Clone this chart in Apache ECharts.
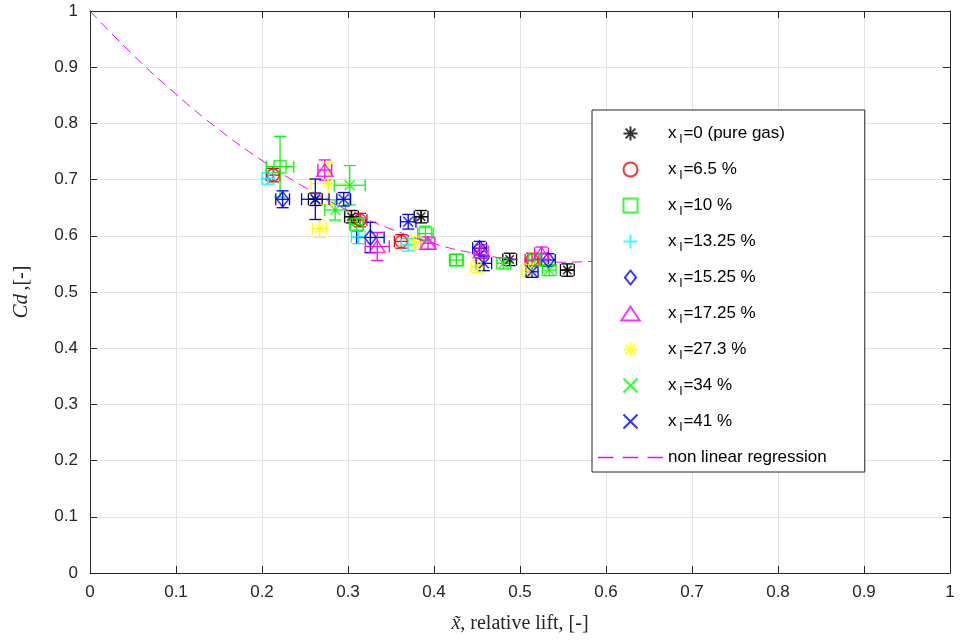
<!DOCTYPE html>
<html>
<head>
<meta charset="utf-8">
<script src="https://cdn.jsdelivr.net/npm/echarts@6/dist/echarts.min.js"></script>
<style>
  html, body { margin: 0; padding: 0; background: #fff; }
  #chart { width: 962px; height: 644px; }
</style>
</head>
<body>
<div id="chart"></div>
<script>
// each point: [x, Cd, x error, Cd error]
const pureGas = [[0.262, 0.665, 0.008, 0.011], [0.304, 0.634, 0.008, 0.011], [0.385, 0.634, 0.008, 0.011], [0.488, 0.558, 0.008, 0.011], [0.555, 0.539, 0.008, 0.011]]
const xl65 = [[0.213, 0.708, 0.008, 0.012], [0.314, 0.628, 0.008, 0.012], [0.362, 0.590, 0.008, 0.012], [0.514, 0.557, 0.008, 0.012]]
const xl10 = [[0.221, 0.723, 0.016, 0.054], [0.310, 0.620, 0.008, 0.012], [0.390, 0.604, 0.009, 0.013], [0.426, 0.557, 0.008, 0.010], [0.517, 0.557, 0.008, 0.010]]
const xl1325 = [[0.207, 0.702, 0.007, 0.010], [0.312, 0.598, 0.008, 0.012], [0.370, 0.584, 0.008, 0.011]]
const xl1525 = [[0.224, 0.665, 0.008, 0.015], [0.326, 0.597, 0.016, 0.027], [0.453, 0.578, 0.008, 0.012], [0.533, 0.557, 0.008, 0.011]]
const xl1725 = [[0.273, 0.717, 0.008, 0.018], [0.334, 0.581, 0.014, 0.025], [0.393, 0.587, 0.008, 0.011], [0.455, 0.572, 0.008, 0.012], [0.525, 0.569, 0.008, 0.011]]
const xl273 = [[0.277, 0.693, 0.020, 0.037], [0.267, 0.613, 0.008, 0.016], [0.378, 0.587, 0.008, 0.011], [0.451, 0.545, 0.008, 0.011], [0.510, 0.539, 0.008, 0.011]]
const xl34 = [[0.302, 0.690, 0.018, 0.035], [0.285, 0.646, 0.012, 0.018], [0.481, 0.551, 0.008, 0.010], [0.534, 0.539, 0.008, 0.010]]
const xl41 = [[0.262, 0.665, 0.016, 0.036], [0.295, 0.665, 0.008, 0.012], [0.370, 0.625, 0.009, 0.013], [0.458, 0.551, 0.009, 0.013], [0.514, 0.536, 0.007, 0.010]]

const fitX = [0, 0.05, 0.1, 0.15, 0.2, 0.25, 0.3, 0.35, 0.4, 0.45, 0.5, 0.55, 0.6]
const fitY = [1, 0.922, 0.852, 0.789, 0.734, 0.686, 0.645, 0.612, 0.586, 0.568, 0.557, 0.553, 0.556]

const STAR = 'path://M0,5L10,5M5,0L5,10M1.5,1.5L8.5,8.5M8.5,1.5L1.5,8.5'
const PLUS = 'path://M0,5L10,5M5,0L5,10'
const CROSS = 'path://M0,0L10,10M10,0L0,10'
const SQUARE = 'path://M0,0L10,0L10,10L0,10Z'
const DIAMOND = 'path://M6,0L12,7.5L6,15L0,7.5Z'
const TRIANGLE = 'path://M8.5,0L17,13L0,13Z'
const DASHES = 'path://M0,0L15,0L15,1.4L0,1.4Z M24,0L39,0L39,1.4L24,1.4Z M48,0L63,0L63,1.4L48,1.4Z'

const groups = [
  { name: 'x_l=0 (pure gas)', data: pureGas, color: '#000000', symbol: STAR, size: 12 },
  { name: 'x_l=6.5 %', data: xl65, color: '#ff0000', symbol: 'circle', size: 12 },
  { name: 'x_l=10 %', data: xl10, color: '#00ff00', symbol: SQUARE, size: 12 },
  { name: 'x_l=13.25 %', data: xl1325, color: '#00ffff', symbol: PLUS, size: 13 },
  { name: 'x_l=15.25 %', data: xl1525, color: '#0000ff', symbol: DIAMOND, size: 15 },
  { name: 'x_l=17.25 %', data: xl1725, color: '#ff00ff', symbol: TRIANGLE, size: 16 },
  { name: 'x_l=27.3 %', data: xl273, color: '#ffff00', symbol: STAR, size: 12 },
  { name: 'x_l=34 %', data: xl34, color: '#00ff00', symbol: CROSS, size: 10 },
  { name: 'x_l=41 %', data: xl41, color: '#0000ff', symbol: CROSS, size: 10 }
]
const fitName = 'non linear regression'

// error bars with caps
function errorBars(color) {
  return function (params, api) {
    const x = api.value(0), y = api.value(1), ex = api.value(2), ey = api.value(3)
    const l = api.coord([x - ex, y]), r = api.coord([x + ex, y])
    const t = api.coord([x, y + ey]), b = api.coord([x, y - ey])
    const h = 6
    const st = { stroke: color, lineWidth: 1.3 }
    const seg = (x1, y1, x2, y2) => ({ type: 'line', shape: { x1, y1, x2, y2 }, style: st })
    return {
      type: 'group',
      children: [
        seg(l[0], l[1], r[0], r[1]),
        seg(t[0], t[1], b[0], b[1]),
        seg(l[0], l[1] - h, l[0], l[1] + h),
        seg(r[0], r[1] - h, r[0], r[1] + h),
        seg(t[0] - h, t[1], t[0] + h, t[1]),
        seg(b[0] - h, b[1], b[0] + h, b[1])
      ]
    }
  }
}

const series = []
groups.forEach((g, i) => {
  series.push({
    name: 'err' + i,
    type: 'custom',
    renderItem: errorBars(g.color),
    data: g.data,
    encode: { x: 0, y: 1 },
    silent: true,
    z: 2
  })
  series.push({
    name: g.name,
    type: 'scatter',
    data: g.data.map(p => [p[0], p[1]]),
    symbol: g.symbol,
    symbolSize: g.size,
    symbolKeepAspect: true,
    itemStyle: { color: 'rgba(0,0,0,0)', borderColor: g.color, borderWidth: 1.5 },
    z: 3
  })
})
series.push({
  name: fitName,
  type: 'line',
  data: fitX.map((x, i) => [x, fitY[i]]),
  smooth: true,
  symbol: 'none',
  showSymbol: false,
  color: '#ff00ff',
  lineStyle: { color: '#ff00ff', width: 1, type: [10, 6] },
  itemStyle: { color: '#ff00ff' },
  z: 4
})

const legendItems = groups.map(g => ({ name: g.name, icon: g.symbol }))
legendItems.push({
  name: fitName,
  icon: DASHES,
  itemStyle: { color: '#ff00ff', borderColor: '#ff00ff', borderWidth: 0 },
  lineStyle: { color: '#ff00ff', width: 0 }
})

const TXT = '#262626'
const axisCommon = {
  type: 'value', min: 0, max: 1, interval: 0.1,
  axisLine: { show: true, onZero: false, lineStyle: { color: TXT, width: 1 } },
  axisTick: { show: true, inside: true, length: 7, lineStyle: { color: TXT } }
}

const chart = echarts.init(document.getElementById('chart'), null, { renderer: 'canvas' })
chart.setOption({
  animation: false,
  backgroundColor: '#ffffff',
  grid: { left: 90, right: 12, top: 11, bottom: 71 },
  xAxis: [
    Object.assign({}, axisCommon, {
      position: 'bottom',
      axisLabel: { color: TXT, fontSize: 17, fontFamily: 'Liberation Sans', margin: 11 },
      splitLine: { show: true, lineStyle: { color: '#e3e3e3' } },
      name: '{i|x\u0303}{n|, relative lift, [-]}',
      nameLocation: 'middle',
      nameGap: 41,
      nameTextStyle: {
        rich: {
          i: { fontFamily: 'Liberation Serif', fontStyle: 'italic', fontSize: 20, color: TXT },
          n: { fontFamily: 'Liberation Serif', fontSize: 20, color: TXT }
        }
      }
    }),
    Object.assign({}, axisCommon, { position: 'top', axisLabel: { show: false }, splitLine: { show: false } })
  ],
  yAxis: [
    Object.assign({}, axisCommon, {
      position: 'left',
      axisLabel: { color: TXT, fontSize: 17, fontFamily: 'Liberation Sans', margin: 12 },
      splitLine: { show: true, lineStyle: { color: '#e3e3e3' } },
      name: '{i|Cd} {n|,[-]}',
      nameLocation: 'middle',
      nameGap: 58,
      nameTextStyle: {
        rich: {
          i: { fontFamily: 'Liberation Serif', fontStyle: 'italic', fontSize: 21, color: TXT },
          n: { fontFamily: 'Liberation Serif', fontSize: 20, color: TXT }
        }
      }
    }),
    Object.assign({}, axisCommon, { position: 'right', axisLabel: { show: false }, splitLine: { show: false } })
  ],
  legend: {
    data: legendItems,
    orient: 'vertical',
    left: 592,
    top: 110,
    padding: [15, 38, 6, 6],
    itemWidth: 65,
    itemHeight: 14,
    itemGap: 15,
    backgroundColor: '#ffffff',
    borderColor: TXT,
    borderWidth: 1,
    borderRadius: 0,
    z: 10,
    formatter: name => name.startsWith('x_l')
      ? '{a|x}{s|l}{a|' + name.slice(3) + '}'
      : '{a|' + name + '}',
    textStyle: {
      rich: {
        a: { fontFamily: 'Liberation Sans', fontSize: 17, color: '#000' },
        s: { fontFamily: 'Liberation Sans', fontSize: 13, color: '#000', padding: [12, 1, 0, 3] }
      }
    }
  },
  series: series
})
</script>
</body>
</html>
